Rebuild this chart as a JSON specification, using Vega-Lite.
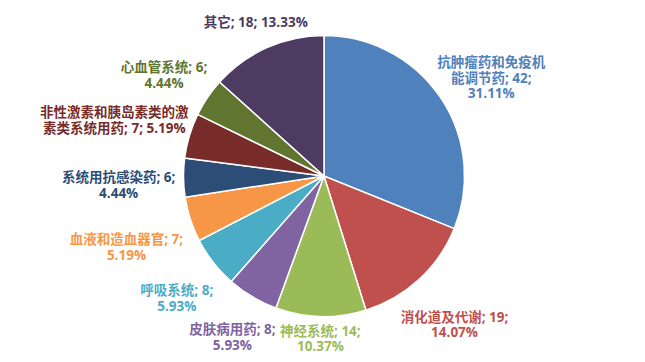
{
  "$schema": "https://vega.github.io/schema/vega-lite/v6.json",
  "width": 645,
  "height": 362,
  "autosize": {"type": "fit", "contains": "padding"},
  "padding": {"left": 3, "top": 0, "right": 0, "bottom": 10},
  "background": "white",
  "view": {"stroke": null},
  "data": {
    "values": [
      {"idx": 1, "name": "抗肿瘤药和免疫机能调节药", "n": 42, "label": "抗肿瘤药和免疫机\n能调节药; 42;\n31.11%"},
      {"idx": 2, "name": "消化道及代谢", "n": 19, "label": "消化道及代谢; 19;\n14.07%"},
      {"idx": 3, "name": "神经系统", "n": 14, "label": "神经系统; 14;\n10.37%"},
      {"idx": 4, "name": "皮肤病用药", "n": 8, "label": "皮肤病用药; 8;\n5.93%"},
      {"idx": 5, "name": "呼吸系统", "n": 8, "label": "呼吸系统; 8;\n5.93%"},
      {"idx": 6, "name": "血液和造血器官", "n": 7, "label": "血液和造血器官; 7;\n5.19%"},
      {"idx": 7, "name": "系统用抗感染药", "n": 6, "label": "系统用抗感染药; 6;\n4.44%"},
      {"idx": 8, "name": "非性激素和胰岛素类的激素类系统用药", "n": 7, "label": "非性激素和胰岛素类的激\n素类系统用药; 7; 5.19%"},
      {"idx": 9, "name": "心血管系统", "n": 6, "label": "心血管系统; 6;\n4.44%"},
      {"idx": 10, "name": "其它", "n": 18, "label": "其它; 18; 13.33%"}
    ]
  },
  "transform": [
    {"joinaggregate": [{"op": "sum", "field": "n", "as": "total"}]}
  ],
  "encoding": {
    "theta": {"field": "n", "type": "quantitative", "stack": true},
    "order": {"field": "idx", "type": "quantitative"},
    "color": {
      "field": "name",
      "type": "nominal",
      "legend": null,
      "scale": {
        "domain": ["抗肿瘤药和免疫机能调节药", "消化道及代谢", "神经系统", "皮肤病用药", "呼吸系统", "血液和造血器官", "系统用抗感染药", "非性激素和胰岛素类的激素类系统用药", "心血管系统", "其它"],
        "range": ["#4F81BD", "#C0504D", "#9BBB59", "#8064A2", "#4BACC6", "#F79646", "#2C4D75", "#772C2A", "#5F7530", "#4D3B62"]
      }
    }
  },
  "layer": [
    {
      "mark": {"type": "arc", "outerRadius": 140.5, "stroke": "white", "strokeWidth": 1.5}
    },
    {
      "mark": {
        "type": "text",
        "font": "Open Sans, Noto Sans CJK SC",
        "fontSize": 13.5,
        "fontWeight": "bold",
        "align": "center",
        "baseline": "middle",
        "lineBreak": "\n",
        "lineHeight": 15.5
      },
      "encoding": {
        "text": {"field": "label"},
        "radius": {"value": {"expr": "((3.6*length(split(datum.label,'\\n')[0])+2.9*length(replace(split(datum.label,'\\n')[0],regexp('[ -~]','g'),'')))*abs(sin(PI*(datum.n_start+datum.n_end)/datum.total))+(7.75*length(split(datum.label,'\\n')))*abs(cos(PI*(datum.n_start+datum.n_end)/datum.total)))+sqrt(pow((3.6*length(split(datum.label,'\\n')[0])+2.9*length(replace(split(datum.label,'\\n')[0],regexp('[ -~]','g'),'')))*abs(sin(PI*(datum.n_start+datum.n_end)/datum.total))+(7.75*length(split(datum.label,'\\n')))*abs(cos(PI*(datum.n_start+datum.n_end)/datum.total)),2)-pow((3.6*length(split(datum.label,'\\n')[0])+2.9*length(replace(split(datum.label,'\\n')[0],regexp('[ -~]','g'),''))),2)-pow((7.75*length(split(datum.label,'\\n'))),2)+21316)"}}
      }
    }
  ]
}
